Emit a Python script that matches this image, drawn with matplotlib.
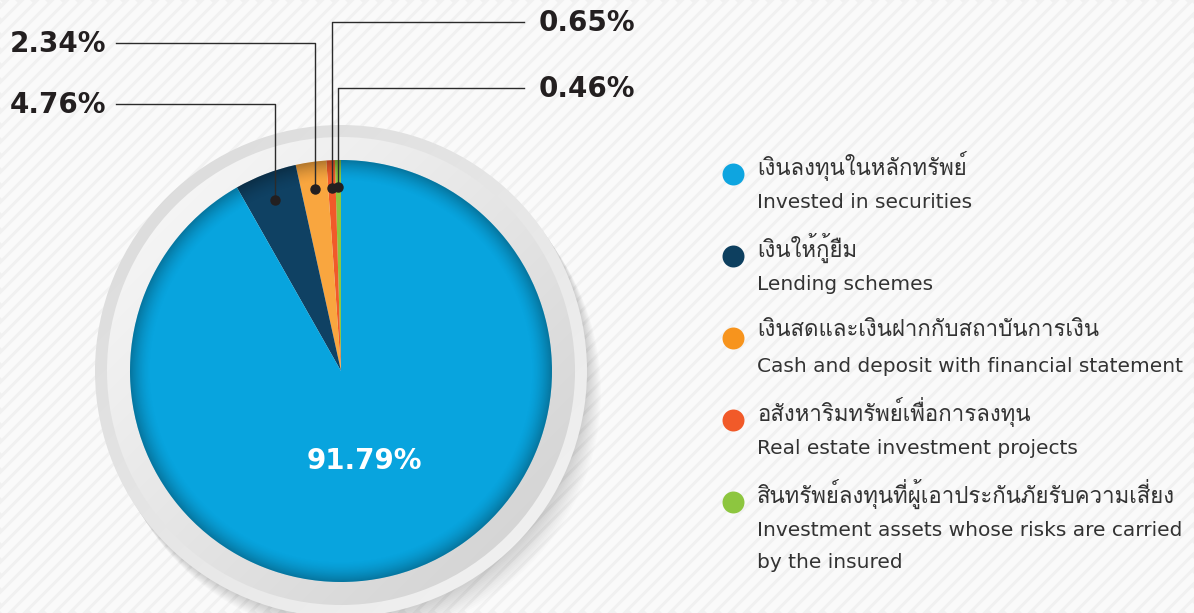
import numpy as np
import matplotlib
matplotlib.use("Agg")
import matplotlib.pyplot as plt
from matplotlib import font_manager
from matplotlib.ft2font import FT2Font
from matplotlib.colors import to_rgb
from matplotlib.patches import Circle

# Données du graphique
categories_th = [
    'เงินลงทุนในหลักทรัพย์',
    'เงินให้กู้ยืม',
    'เงินสดและเงินฝากกับสถาบันการเงิน',
    'อสังหาริมทรัพย์เพื่อการลงทุน',
    'สินทรัพย์ลงทุนที่ผู้เอาประกันภัยรับความเสี่ยง',
]
categories_en = [
    ['Invested in securities'],
    ['Lending schemes'],
    ['Cash and deposit with financial statement'],
    ['Real estate investment projects'],
    ['Investment assets whose risks are carried', 'by the insured'],
]
values = [91.79, 4.76, 2.34, 0.65, 0.46]
value_labels = ['91.79%', '4.76%', '2.34%', '0.65%', '0.46%']
colors = ['#08a4de', '#0f4163', '#f9a63f', '#f15a29', '#8dc63f']
legend_colors = ['#0ea5e0', '#0d3f5f', '#f7941d', '#f15a29', '#8dc63f']

W, H = 1194, 613


# Police avec glyphes thaï si disponible
def find_thai_font():
    for f in font_manager.fontManager.ttflist:
        try:
            if 0x0E07 in FT2Font(f.fname).get_charmap():
                return f.name
        except Exception:
            pass
    return None


thai = find_thai_font()
thai_fam = ['DejaVu Sans'] if thai is None else [thai, 'DejaVu Sans']
plt.rcParams['font.family'] = ['DejaVu Sans'] + ([thai] if thai else [])


def Y(y_px):
    return H - y_px


def gradient_disk(ax, cx, cy, r, c1, c2, zorder):
    t = np.linspace(0, 1, 300)
    gx, gy = np.meshgrid(t, t)
    g = (gx + (1 - gy)) / 2
    a, b = np.array(to_rgb(c1)), np.array(to_rgb(c2))
    img = a + (b - a) * g[..., None]
    im = ax.imshow(img, extent=(cx - r, cx + r, cy - r, cy + r), origin='lower',
                   zorder=zorder, interpolation='bilinear')
    im.set_clip_path(Circle((cx, cy), r, transform=ax.transData))


fig = plt.figure(figsize=(W / 100, H / 100), dpi=100)
ax = fig.add_axes([0, 0, 1, 1])
ax.set_axis_off()
fig.patch.set_facecolor('#f1f1f1')

# Fond rayé
for c in range(-H, W + 20, 15):
    ax.plot([c, c + H], [0, H], color='#fafafa', lw=5.5, zorder=0, solid_capstyle='butt')

cx, cy, R = 341, Y(371), 211

# Ombre portée douce (vers le bas à droite) + anneaux
for k in range(14):
    ax.add_patch(Circle((cx + 1 + k, cy - 1.5 - 1.5 * k), 246, color='black', alpha=0.01,
                        lw=0, zorder=1))
gradient_disk(ax, cx, cy, 246, '#d9d9d9', '#f4f4f4', 2)
gradient_disk(ax, cx, cy, 234, '#fbfbfb', '#cfcfcf', 3)

# Camembert (sens antihoraire depuis le haut)
wedges, _ = ax.pie(values[::-1], colors=colors[::-1], startangle=90, counterclock=True,
                   center=(cx, cy), radius=R, wedgeprops=dict(linewidth=0))
wedges = wedges[::-1]
for w in wedges:
    w.set_zorder(4)

# Assombrissement du bord
t = np.linspace(-1, 1, 400)
gx, gy = np.meshgrid(t, t)
d = np.sqrt(gx ** 2 + gy ** 2)
shade = np.zeros((400, 400, 4))
shade[..., 3] = np.clip((d - 0.9) / 0.1, 0, 1) ** 1.6 * 0.28
im = ax.imshow(shade, extent=(cx - R, cx + R, cy - R, cy + R), origin='lower', zorder=5,
               interpolation='bilinear')
im.set_clip_path(Circle((cx, cy), R, transform=ax.transData))

# Étiquettes avec lignes de rappel
label_layout = {1: (104, 'left'), 2: (43, 'left'), 3: (22, 'right'), 4: (88, 'right')}
for i, (yl, side) in label_layout.items():
    w = wedges[i]
    mid = np.deg2rad((w.theta1 + w.theta2) / 2)
    xd, yd = cx + 0.87 * R * np.cos(mid), cy + 0.87 * R * np.sin(mid)
    if side == 'left':
        xe, xt, ha = 116, 106, 'right'
    else:
        xe, xt, ha = 524, 539, 'left'
    ax.plot([xd, xd, xe], [yd, Y(yl), Y(yl)], color='#2b2b2b', lw=1.0, zorder=6)
    ax.plot([xd], [yd], 'o', color='#231f20', ms=6.5, zorder=7)
    ax.text(xt, Y(yl + 1), value_labels[i], ha=ha, va='center', fontsize=20,
            fontweight='bold', color='#231f20', zorder=7)

w = wedges[0]
mid = np.deg2rad((w.theta1 + w.theta2) / 2)
ax.text(cx + 0.44 * R * np.cos(mid), cy + 0.44 * R * np.sin(mid), value_labels[0],
        ha='center', va='center', fontsize=20, fontweight='bold', color='white', zorder=7)

# Légende
for i in range(len(values)):
    y0 = 166 + i * 82
    ax.scatter([733], [Y(y0 + 8)], s=250, color=legend_colors[i], lw=0, zorder=7)
    ax.text(757, Y(y0), categories_th[i], ha='left', va='center', fontsize=16,
            family=thai_fam, color='#333333', zorder=7)
    for j, line in enumerate(categories_en[i]):
        ax.text(757, Y(y0 + 36 + 33 * j), line, ha='left', va='center', fontsize=14.5,
                color='#333333', zorder=7)

ax.set_xlim(0, W)
ax.set_ylim(0, H)
ax.set_aspect('auto')

plt.savefig('out.png', dpi=100, facecolor=fig.get_facecolor())
